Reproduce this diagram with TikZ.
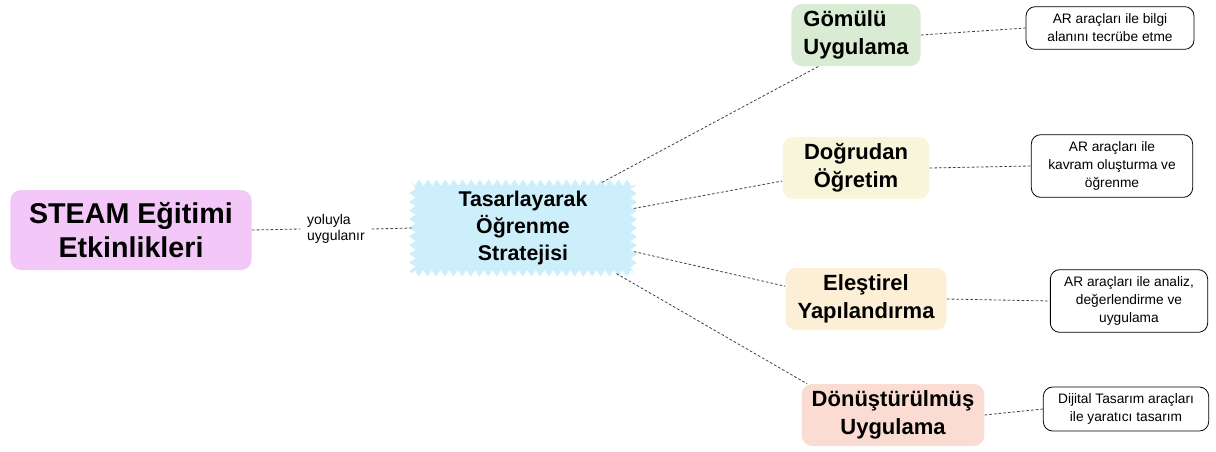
\documentclass[tikz,border=0pt]{standalone}
\usepackage{fontspec}
\setmainfont{Liberation Sans}
\usetikzlibrary{decorations.pathmorphing}
\definecolor{steampink}{RGB}{243,200,248}
\definecolor{stratblue}{RGB}{205,239,251}
\definecolor{gomgreen}{RGB}{217,235,211}
\definecolor{dogyellow}{RGB}{248,246,218}
\definecolor{eleorange}{RGB}{253,239,214}
\definecolor{donsalmon}{RGB}{251,220,211}
\begin{document}
\begin{tikzpicture}[x=0.75pt,y=-0.75pt,
  mainbox/.style={rounded corners=8pt,align=center,font=\fontsize{16.5}{21}\selectfont\bfseries},
  subbox/.style={draw,rounded corners=7pt,align=center,font=\fontsize{10.3}{13.5}\selectfont,line width=0.6pt},
  link/.style={dashed,dash pattern=on 2pt off 1.5pt,line width=0.6pt,draw=black!75}]
\useasboundingbox (0,0) rectangle (1216,451);

\node[mainbox,fill=steampink,minimum width=181pt,minimum height=60pt,
  font=\fontsize{21.5}{25.5}\selectfont\bfseries] (steam) at (131,230) {STEAM Eğitimi\\Etkinlikleri};
\node[align=left,font=\fontsize{10.5}{12.5}\selectfont,inner xsep=5pt] (yol) at (336,229) {yoluyla\\uygulanır};
\node[fill=stratblue,minimum width=166pt,minimum height=68pt,align=center,
  font=\fontsize{16}{20.5}\selectfont\bfseries,
  decorate,decoration={zigzag,segment length=6.5pt,amplitude=2.4pt}] (strat) at (523,228) {Tasarlayarak\\Öğrenme\\Stratejisi};

\node[mainbox,fill=gomgreen,minimum width=97pt,minimum height=46.5pt,align=left] (gomulu) at (856,35) {Gömülü\\Uygulama};
\node[mainbox,fill=dogyellow,minimum width=110pt,minimum height=46.5pt] (dogru) at (856,168) {Doğrudan\\Öğretim};
\node[mainbox,fill=eleorange,minimum width=121pt,minimum height=46.5pt] (elest) at (866,299) {Eleştirel\\Yapılandırma};
\node[mainbox,fill=donsalmon,minimum width=137pt,minimum height=46.5pt] (donus) at (893,415) {Dönüştürülmüş\\Uygulama};

\node[subbox,minimum width=126pt,minimum height=32pt] (arbilgi) at (1110,28) {AR araçları ile bilgi\\alanını tecrübe etme};
\node[subbox,minimum width=121pt,minimum height=47pt] (arkavram) at (1112,166) {AR araçları ile\\kavram oluşturma ve\\öğrenme};
\node[subbox,minimum width=118pt,minimum height=47pt] (aranaliz) at (1129,301) {AR araçları ile analiz,\\değerlendirme ve\\uygulama};
\node[subbox,minimum width=124pt,minimum height=33pt] (dijital) at (1126,409) {Dijital Tasarım araçları\\ile yaratıcı tasarım};

\draw[link] (steam.east) -- (yol.west);
\draw[link] (yol.east) -- (strat.west);
\draw[link] (strat.30) -- (gomulu.220);
\draw[link] (strat.10) -- (dogru.190);
\draw[link] (strat.-12) -- (elest.171);
\draw[link] (strat.-26) -- (donus.160);
\draw[link] (gomulu.east) -- (arbilgi.west);
\draw[link] (dogru.east) -- (arkavram.west);
\draw[link] (elest.east) -- (aranaliz.west);
\draw[link] (donus.east) -- (dijital.west);
\end{tikzpicture}
\end{document}
